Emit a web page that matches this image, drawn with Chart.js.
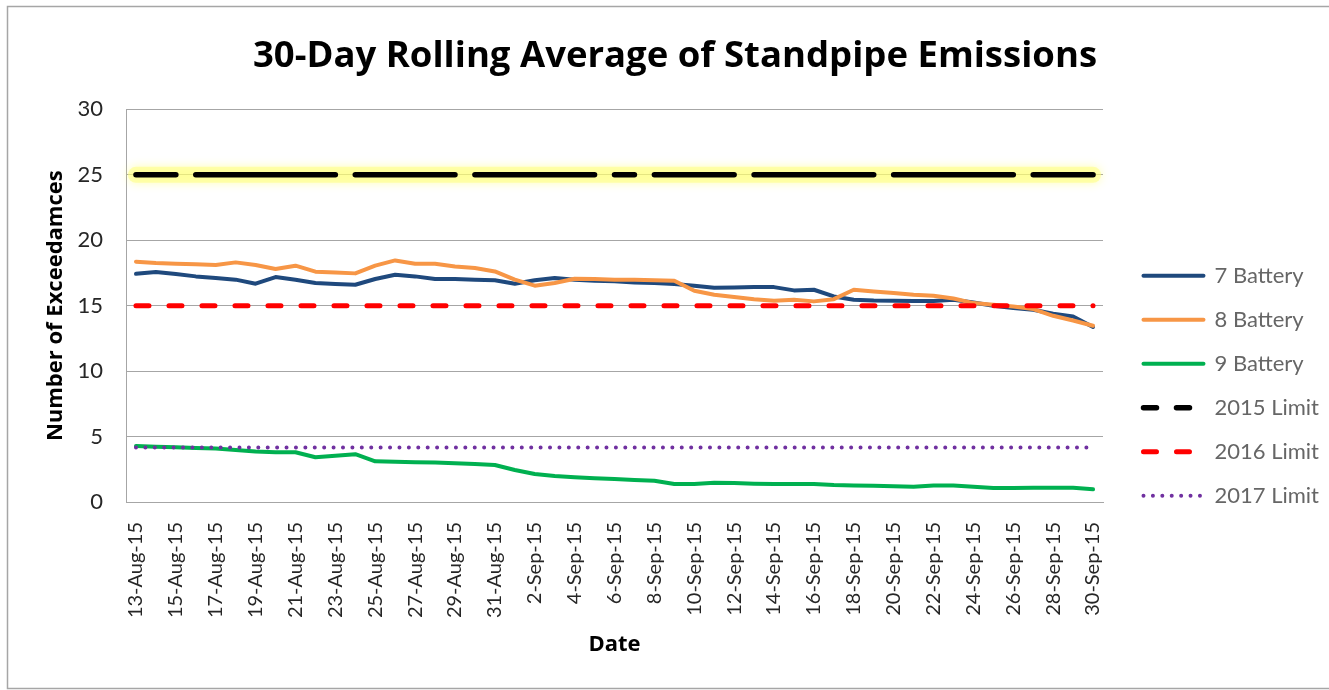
<!DOCTYPE html>
<html>
<head>
<meta charset="utf-8">
<title>30-Day Rolling Average of Standpipe Emissions</title>
<script src="https://cdn.jsdelivr.net/npm/chart.js@4/dist/chart.umd.min.js"></script>
<style>
  html, body { margin: 0; padding: 0; background: #fff; }
</style>
</head>
<body>
<canvas id="chart" width="1329" height="690"></canvas>
<script>
// categories (one point per day)
const dates = [
  '13-Aug-15', '14-Aug-15', '15-Aug-15', '16-Aug-15', '17-Aug-15', '18-Aug-15', '19-Aug-15',
  '20-Aug-15', '21-Aug-15', '22-Aug-15', '23-Aug-15', '24-Aug-15', '25-Aug-15', '26-Aug-15',
  '27-Aug-15', '28-Aug-15', '29-Aug-15', '30-Aug-15', '31-Aug-15', '1-Sep-15', '2-Sep-15',
  '3-Sep-15', '4-Sep-15', '5-Sep-15', '6-Sep-15', '7-Sep-15', '8-Sep-15', '9-Sep-15',
  '10-Sep-15', '11-Sep-15', '12-Sep-15', '13-Sep-15', '14-Sep-15', '15-Sep-15', '16-Sep-15',
  '17-Sep-15', '18-Sep-15', '19-Sep-15', '20-Sep-15', '21-Sep-15', '22-Sep-15', '23-Sep-15',
  '24-Sep-15', '25-Sep-15', '26-Sep-15', '27-Sep-15', '28-Sep-15', '29-Sep-15', '30-Sep-15'
];

// series values
const battery7 = [
  17.44, 17.57, 17.42, 17.24, 17.11, 16.99, 16.68, 17.19, 16.99, 16.73,
  16.65, 16.60, 17.04, 17.37, 17.24, 17.04, 17.04, 16.99, 16.94, 16.68,
  16.94, 17.11, 16.99, 16.91, 16.86, 16.78, 16.73, 16.65, 16.53, 16.37,
  16.40, 16.42, 16.42, 16.17, 16.22, 15.71, 15.46, 15.40, 15.38, 15.35,
  15.35, 15.46, 15.25, 15.00, 14.82, 14.69, 14.38, 14.18, 13.37
];
const battery8 = [
  18.36, 18.26, 18.21, 18.16, 18.11, 18.31, 18.11, 17.80, 18.06, 17.60,
  17.54, 17.47, 18.06, 18.46, 18.21, 18.21, 18.00, 17.88, 17.62, 16.99,
  16.53, 16.73, 17.06, 17.04, 16.99, 16.99, 16.94, 16.91, 16.14, 15.84,
  15.66, 15.50, 15.38, 15.46, 15.33, 15.50, 16.22, 16.09, 15.97, 15.84,
  15.76, 15.55, 15.20, 15.07, 14.94, 14.74, 14.23, 13.87, 13.47
];
const battery9 = [
  4.28, 4.23, 4.18, 4.13, 4.08, 3.98, 3.85, 3.80, 3.80, 3.42,
  3.54, 3.65, 3.11, 3.08, 3.03, 3.01, 2.96, 2.91, 2.83, 2.45,
  2.14, 1.99, 1.89, 1.81, 1.75, 1.68, 1.63, 1.38, 1.38, 1.48,
  1.45, 1.40, 1.38, 1.38, 1.38, 1.30, 1.27, 1.25, 1.20, 1.17,
  1.27, 1.27, 1.17, 1.07, 1.07, 1.09, 1.09, 1.09, 0.97
];
const limit2015 = [
  25, 25, 25, 25, 25, 25, 25, 25, 25, 25, 25, 25, 25, 25, 25, 25, 25,
  25, 25, 25, 25, 25, 25, 25, 25, 25, 25, 25, 25, 25, 25, 25, 25, 25,
  25, 25, 25, 25, 25, 25, 25, 25, 25, 25, 25, 25, 25, 25, 25
];
const limit2016 = [
  15, 15, 15, 15, 15, 15, 15, 15, 15, 15, 15, 15, 15, 15, 15, 15, 15,
  15, 15, 15, 15, 15, 15, 15, 15, 15, 15, 15, 15, 15, 15, 15, 15, 15,
  15, 15, 15, 15, 15, 15, 15, 15, 15, 15, 15, 15, 15, 15, 15
];
const limit2017 = [
  4.17, 4.17, 4.17, 4.17, 4.17, 4.17, 4.17, 4.17, 4.17, 4.17, 4.17, 4.17, 4.17,
  4.17, 4.17, 4.17, 4.17, 4.17, 4.17, 4.17, 4.17, 4.17, 4.17, 4.17, 4.17, 4.17,
  4.17, 4.17, 4.17, 4.17, 4.17, 4.17, 4.17, 4.17, 4.17, 4.17, 4.17, 4.17, 4.17,
  4.17, 4.17, 4.17, 4.17, 4.17, 4.17, 4.17, 4.17, 4.17, 4.17
];
const yTicks = [0, 5, 10, 15, 20, 25, 30];

// segments of the 2015 line that Excel left blank (dash pattern)
const gaps2015 = [2, 10, 16, 23, 25, 30, 37, 44];

Chart.defaults.font.family = "Lato, 'Open Sans', sans-serif";
const boldFamily = "'Open Sans', Lato, sans-serif";

// white background + outer grey frame
const framePlugin = {
  id: 'frame',
  beforeDraw(chart) {
    const ctx = chart.ctx;
    ctx.save();
    ctx.fillStyle = '#fff';
    ctx.fillRect(0, 0, chart.width, chart.height);
    ctx.strokeStyle = '#a6a6a6';
    ctx.lineWidth = 1.5;
    ctx.strokeRect(7.5, 6.5, chart.width + 10, chart.height - 8);
    ctx.restore();
  }
};

// soft yellow glow under the 2015 limit
const glowPlugin = {
  id: 'glow',
  beforeDatasetDraw(chart, args) {
    if (!chart.data.datasets[args.index].glow) return;
    chart.ctx.save();
    chart.ctx.shadowColor = 'rgba(255,255,60,0.7)';
    chart.ctx.shadowBlur = 10;
  },
  afterDatasetDraw(chart, args) {
    if (!chart.data.datasets[args.index].glow) return;
    chart.ctx.restore();
  }
};

const ctx = document.getElementById('chart').getContext('2d');
const chart = new Chart(ctx, {
  type: 'line',
  data: {
    labels: dates,
    datasets: [
      { label: '7 Battery', data: battery7, borderColor: '#1F497D', borderWidth: 4, order: 6 },
      { label: '8 Battery', data: battery8, borderColor: '#F79646', borderWidth: 4, order: 5 },
      { label: '9 Battery', data: battery9, borderColor: '#00B050', borderWidth: 4, order: 4 },
      {
        label: '2015 Limit', data: limit2015, borderColor: '#000', borderWidth: 5.5, order: 3,
        borderDash: [], legendDash: [13, 20],
        segment: { borderColor: c => gaps2015.includes(c.p0DataIndex) ? 'rgba(0,0,0,0)' : undefined }
      },
      { label: '2016 Limit', data: limit2016, borderColor: '#FF0000', borderWidth: 5, order: 2, borderDash: [13, 20] },
      { label: '2017 Limit', data: limit2017, borderColor: '#7030A0', borderWidth: 4, order: 1, borderDash: [0.01, 9.4] },
      { label: 'glow', data: limit2015, borderColor: 'rgba(255,255,130,0.55)', borderWidth: 16, order: 10, glow: true }
    ]
  },
  options: {
    responsive: false,
    animation: false,
    layout: { padding: { left: 21, right: 0, top: 20, bottom: 28 } },
    elements: {
      point: { radius: 0, hoverRadius: 0 },
      line: { tension: 0, borderCapStyle: 'round', borderJoinStyle: 'round', fill: false }
    },
    scales: {
      x: {
        offset: true,
        grid: { display: false },
        border: { display: true, color: '#a6a6a6' },
        ticks: {
          autoSkip: false, minRotation: 90, maxRotation: 90, padding: 12,
          color: '#262626', font: { size: 20 },
          callback: function (v, i) { return i % 2 === 0 ? this.getLabelForValue(v) : ''; }
        },
        title: {
          display: true, text: 'Date', color: '#000',
          font: { family: boldFamily, size: 22, weight: 'bold' }, padding: { top: 0, bottom: 4 }
        },
        afterFit: s => { s.height = 160; }
      },
      y: {
        min: 0, max: 30,
        grid: { color: '#a6a6a6', drawTicks: false },
        border: { display: true, color: '#a6a6a6' },
        afterBuildTicks: s => { s.ticks = yTicks.map(v => ({ value: v })); },
        ticks: { padding: 23, color: '#262626', font: { size: 22 } },
        title: {
          display: true, text: 'Number of Exceedamces', color: '#000',
          font: { family: boldFamily, size: 22, weight: 'bold' }, padding: { top: 22, bottom: 0 }
        },
        afterFit: s => { s.width = 105; }
      },
      gap: {
        type: 'linear', axis: 'y', position: 'right', display: true,
        grid: { display: false }, border: { display: false }, ticks: { display: false },
        // space between plot and legend so the plot ends at x = 1103
        afterFit: s => { s.width = Math.max(0, s.chart.width - s.chart.legend.width - 1103); }
      }
    },
    plugins: {
      title: {
        display: true, text: '30-Day Rolling Average of Standpipe Emissions', color: '#000',
        font: { family: boldFamily, size: 36.5, weight: 'bold' }, padding: { top: 15, bottom: 30.6 }
      },
      legend: {
        position: 'right',
        // empty legend title only pushes the entries down
        title: { display: true, text: ' ', font: { size: 12 }, padding: { top: 75, bottom: 0 } },
        labels: {
          usePointStyle: true, pointStyleWidth: 60, padding: 22,
          color: '#111', font: { size: 22 },
          generateLabels: ch => ch.data.datasets
            .map((ds, i) => ({
              text: ds.label,
              strokeStyle: ds.borderColor,
              fillStyle: 'rgba(0,0,0,0)',
              lineWidth: ds.borderWidth,
              lineDash: ds.legendDash || ds.borderDash || [],
              lineCap: 'round',
              pointStyle: 'line',
              hidden: false,
              datasetIndex: i
            }))
            .filter(it => !ch.data.datasets[it.datasetIndex].glow)
        }
      },
      tooltip: { enabled: false }
    }
  },
  plugins: [framePlugin, glowPlugin]
});
</script>
</body>
</html>
